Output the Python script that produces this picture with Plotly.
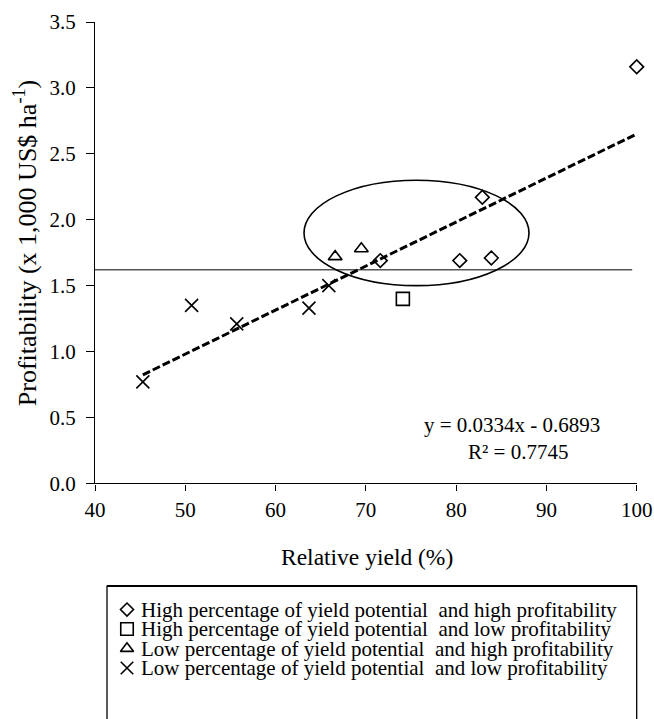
import plotly.graph_objects as go

# ---------------- data ----------------
x_high_high = [71.6, 80.4, 82.9, 83.9, 100.0]
y_high_high = [1.69, 1.69, 2.17, 1.71, 3.16]
x_high_low = [74.1]
y_high_low = [1.40]
x_low_high = [66.6, 69.5]
y_low_high = [1.72, 1.78]
x_low_low = [45.3, 50.7, 55.7, 63.7, 65.9]
y_low_low = [0.77, 1.35, 1.21, 1.33, 1.50]

legend_labels = [
    "High percentage of yield potential&nbsp; and high profitability",
    "High percentage of yield potential&nbsp; and low profitability",
    "Low percentage of yield potential&nbsp; and high profitability",
    "Low percentage of yield potential&nbsp; and low profitability",
]
x_title = "Relative yield (%)"
y_title = "Profitability (x 1,000 US$ ha<sup>-1</sup>)"
slope = 0.0334
intercept = -0.6893
r_squared = 0.7745
profit_threshold = 1.62
threshold_x_end = 99.5
ellipse_x = [63.15, 88.07]
ellipse_y = [1.50, 2.30]

# ---------------- styles ----------------
FONT = "Times New Roman, Liberation Serif, Times, serif"
W, H = 654, 719
L, R, T, B = 95, 0, 21.7, 0
plot_right_px = 636.7
plot_bottom_px = 483.3
paper_h = H - T - B
paper_w = W - L - R


def px_x(p):
    return (p - L) / paper_w


def px_y(p):
    return (H - B - p) / paper_h


symbols = ["diamond-open", "square-open", "triangle-up-open", "x-thin-open"]
sizes = [10.5, 13, 12, 13]
series = [
    (x_high_high, y_high_high),
    (x_high_low, y_high_low),
    (x_low_high, y_low_high),
    (x_low_low, y_low_low),
]

fig = go.Figure()

for (xs, ys), sym, sz, lab in zip(series, symbols, sizes, legend_labels):
    fig.add_trace(go.Scatter(
        x=xs, y=ys, mode="markers", name=lab, showlegend=False,
        cliponaxis=False,
        marker=dict(symbol=sym, size=sz, color="black",
                    line=dict(color="black", width=1.6)),
    ))

# trend line from the fitted equation
all_x = x_high_high + x_high_low + x_low_high + x_low_low
tx = [min(all_x), max(all_x)]
ty = [slope * v + intercept for v in tx]
fig.add_trace(go.Scatter(
    x=tx, y=ty, mode="lines", showlegend=False, cliponaxis=False,
    line=dict(color="black", width=3, dash="8px,3px"),
))

# manual legend (separate overlay axes, pixel-like units)
leg_rows = list(range(len(legend_labels)))
for i, (sym, sz) in enumerate(zip(symbols, sizes)):
    fig.add_trace(go.Scatter(
        x=[127], y=[leg_rows[i]], xaxis="x2", yaxis="y2", mode="markers",
        showlegend=False, cliponaxis=False,
        marker=dict(symbol=sym, size=sz - 0.5, color="black",
                    line=dict(color="black", width=1.6)),
    ))

row_px = 19.5
first_row_px = 609.5
leg_dom_top = 0.2
top_px = H - B - leg_dom_top * paper_h
y2_top = -(first_row_px - top_px) / row_px
y2_bot = (H - B - first_row_px) / row_px
box_top = -(first_row_px - 586) / row_px

annotations = []
for i, lab in enumerate(legend_labels):
    annotations.append(dict(
        x=139, y=leg_rows[i], xref="x2", yref="y2", text=lab,
        showarrow=False, xanchor="left", yanchor="middle",
        font=dict(family=FONT, size=21, color="black"),
    ))

annotations += [
    dict(x=px_x(512), y=px_y(425), xref="paper", yref="paper",
         text=f"y = {slope}x - {abs(intercept)}", showarrow=False,
         xanchor="center", yanchor="middle",
         font=dict(family=FONT, size=21, color="black")),
    dict(x=px_x(518), y=px_y(452), xref="paper", yref="paper",
         text=f"R² = {r_squared}", showarrow=False,
         xanchor="center", yanchor="middle",
         font=dict(family=FONT, size=21, color="black")),
    dict(x=px_x(366.5), y=px_y(557), xref="paper", yref="paper",
         text=x_title, showarrow=False, xanchor="center", yanchor="middle",
         font=dict(family=FONT, size=23.5, color="black")),
    dict(x=px_x(25), y=px_y(243), xref="paper", yref="paper",
         text=y_title, textangle=-90, showarrow=False,
         xanchor="center", yanchor="middle",
         font=dict(family=FONT, size=26, color="black")),
]

shapes = [
    dict(type="line", xref="x", yref="y", x0=40, x1=threshold_x_end,
         y0=profit_threshold, y1=profit_threshold,
         line=dict(color="black", width=1)),
    dict(type="circle", xref="x", yref="y", x0=ellipse_x[0], x1=ellipse_x[1],
         y0=ellipse_y[0], y1=ellipse_y[1], line=dict(color="black", width=1.6)),
    dict(type="rect", xref="x2", yref="y2", x0=107, x1=plot_right_px,
         y0=box_top, y1=y2_bot + 3, line=dict(color="black", width=1.3)),
    dict(type="line", xref="x2", yref="y2", x0=107, x1=plot_right_px,
         y0=box_top, y1=box_top, line=dict(color="black", width=2)),
]

fig.update_layout(
    template="none",
    width=W, height=H,
    margin=dict(l=L, r=R, t=T, b=B, pad=0, autoexpand=False),
    paper_bgcolor="white", plot_bgcolor="white",
    font=dict(family=FONT, size=20, color="black"),
    showlegend=False,
    xaxis=dict(
        domain=[0, px_x(plot_right_px)],
        range=[40, 100], dtick=10, tick0=40,
        showgrid=False, zeroline=False, automargin=False,
        showline=True, linecolor="black", linewidth=1.3,
        ticks="outside", ticklen=6, tickwidth=1.3, tickcolor="black",
        tickfont=dict(family=FONT, size=21),
        ticklabelstandoff=1,
        anchor="y",
    ),
    yaxis=dict(
        domain=[px_y(plot_bottom_px), 1],
        range=[0, 3.5], dtick=0.5, tick0=0, tickformat=".1f",
        showgrid=False, zeroline=False, automargin=False,
        showline=True, linecolor="black", linewidth=1.3,
        ticks="outside", ticklen=8, tickwidth=1.3, tickcolor="black",
        tickfont=dict(family=FONT, size=21),
        ticklabelstandoff=6,
        anchor="x",
    ),
    xaxis2=dict(domain=[0, 1], range=[L, W - R], visible=False,
                anchor="y2", automargin=False),
    yaxis2=dict(domain=[0, leg_dom_top], range=[y2_bot, y2_top],
                visible=False, anchor="x2", automargin=False),
    shapes=shapes,
    annotations=annotations,
)

fig.write_html("out.html")
